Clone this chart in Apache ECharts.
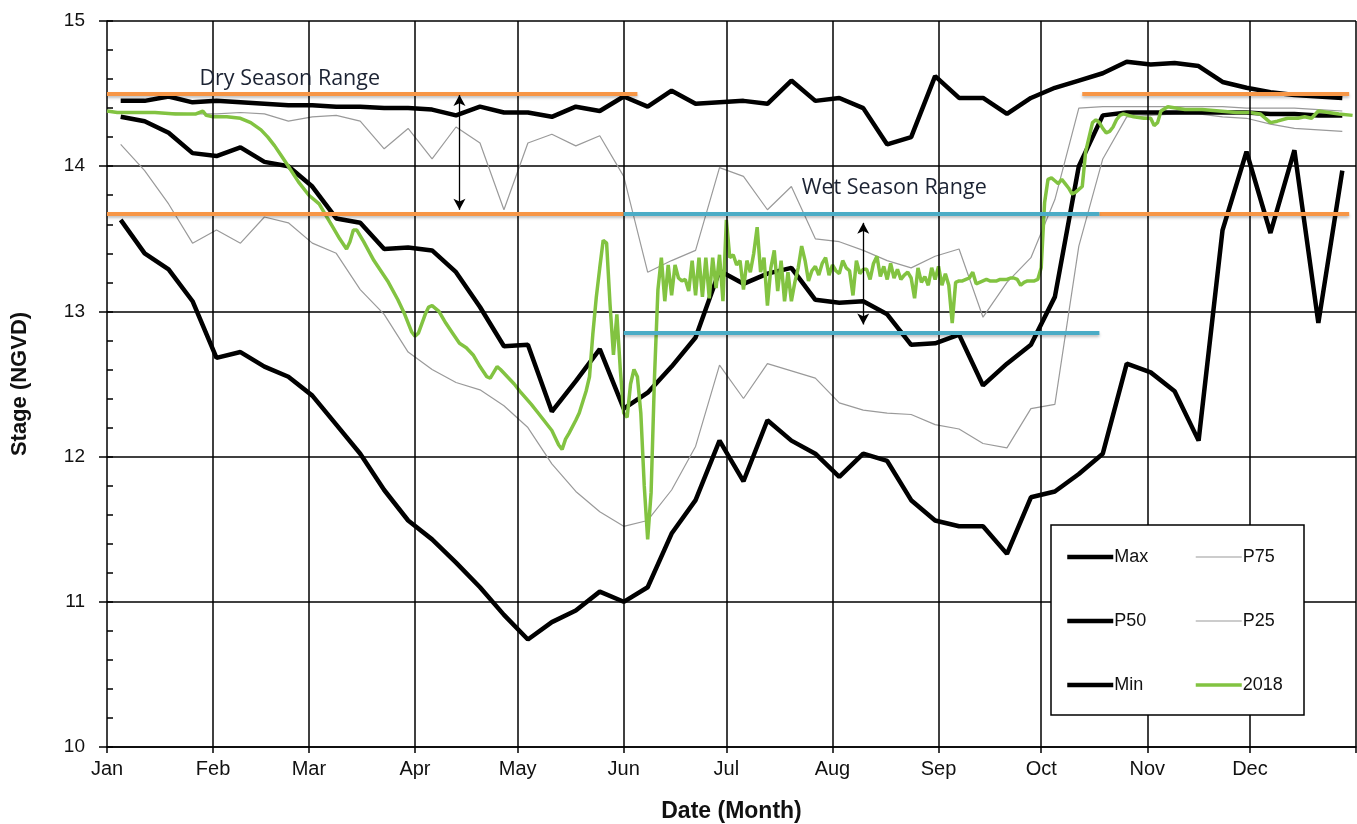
<!DOCTYPE html>
<html>
<head>
<meta charset="utf-8">
<script src="https://cdn.jsdelivr.net/npm/echarts@6/dist/echarts.min.js"></script>
<style>
html,body{margin:0;padding:0;background:#fff;}
#chart{width:1357px;height:824px;}
</style>
</head>
<body>
<div id="chart"></div>
<script>
// ---- categories / ticks ----
const monthStarts = [0, 31, 59, 90, 120, 151, 181, 212, 243, 273, 304, 334];
const monthLabels = ['Jan', 'Feb', 'Mar', 'Apr', 'May', 'Jun', 'Jul', 'Aug', 'Sep', 'Oct', 'Nov', 'Dec'];
const monthGridDays = [31, 59, 90, 120, 151, 181, 212, 243, 273, 304, 334, 365];

// ---- weekly statistics (day of year) ----
const weekDays = [4, 11, 18, 25, 32, 39, 46, 53, 60, 67, 74, 81, 88, 95, 102, 109, 116, 123, 130, 137, 144, 151, 158, 165, 172, 179, 186, 193, 200, 207, 214, 221, 228, 235, 242, 249, 256, 263, 270, 277, 284, 291, 298, 305, 312, 319, 326, 333, 340, 347, 354, 361];

const maxStage = [14.45, 14.45, 14.48, 14.44, 14.45, 14.44, 14.43, 14.42, 14.42, 14.41,
  14.41, 14.40, 14.40, 14.39, 14.35, 14.41, 14.37, 14.37, 14.34, 14.41,
  14.38, 14.48, 14.41, 14.52, 14.43, 14.44, 14.45, 14.43, 14.59, 14.45,
  14.47, 14.40, 14.15, 14.20, 14.62, 14.47, 14.47, 14.36, 14.47, 14.54,
  14.59, 14.64, 14.72, 14.70, 14.71, 14.69, 14.58, 14.54, 14.51, 14.49,
  14.48, 14.47];

const p75Stage = [14.37, 14.37, 14.37, 14.36, 14.36, 14.37, 14.36, 14.31, 14.34, 14.35,
  14.31, 14.12, 14.26, 14.05, 14.27, 14.16, 13.70, 14.16, 14.22, 14.14,
  14.21, 13.93, 13.27, 13.35, 13.42, 13.99, 13.93, 13.70, 13.86, 13.50,
  13.48, 13.42, 13.35, 13.30, 13.38, 13.43, 12.96, 13.20, 13.37, 13.77,
  14.40, 14.41, 14.41, 14.41, 14.41, 14.41, 14.41, 14.40, 14.40, 14.40,
  14.39, 14.38];

const p50Stage = [14.34, 14.31, 14.23, 14.09, 14.07, 14.13, 14.03, 14.00, 13.86, 13.64,
  13.61, 13.43, 13.44, 13.42, 13.27, 13.03, 12.76, 12.77, 12.31, 12.52,
  12.74, 12.33, 12.44, 12.62, 12.82, 13.28, 13.19, 13.26, 13.30, 13.08,
  13.06, 13.07, 12.98, 12.77, 12.78, 12.84, 12.49, 12.64, 12.77, 13.10,
  14.00, 14.35, 14.37, 14.37, 14.37, 14.37, 14.37, 14.37, 14.36, 14.36,
  14.35, 14.35];

const p25Stage = [14.15, 13.97, 13.74, 13.47, 13.56, 13.47, 13.65, 13.61, 13.47, 13.40,
  13.15, 12.98, 12.72, 12.60, 12.51, 12.46, 12.35, 12.20, 11.95, 11.76,
  11.62, 11.52, 11.56, 11.77, 12.07, 12.63, 12.40, 12.64, 12.59, 12.54,
  12.37, 12.32, 12.30, 12.29, 12.22, 12.19, 12.09, 12.06, 12.33, 12.36,
  13.45, 14.05, 14.34, 14.35, 14.36, 14.36, 14.34, 14.33, 14.29, 14.26,
  14.25, 14.24];

const minStage = [13.63, 13.40, 13.29, 13.07, 12.68, 12.72, 12.62, 12.55, 12.42, 12.22,
  12.02, 11.77, 11.56, 11.43, 11.27, 11.10, 10.91, 10.74, 10.86, 10.94,
  11.07, 11.00, 11.10, 11.47, 11.70, 12.11, 11.83, 12.25, 12.11, 12.02,
  11.86, 12.02, 11.97, 11.70, 11.56, 11.52, 11.52, 11.33, 11.72, 11.76,
  11.88, 12.02, 12.64, 12.58, 12.45, 12.11, 13.56, 14.10, 13.54, 14.11,
  12.92, 13.97];

// ---- 2018 daily stage [day of year, stage] ----
const stage2018 = [
  [0,14.38],[3,14.37],[8,14.37],[14,14.37],[20,14.36],[26,14.36],[28,14.38],[29,14.35],[31,14.34],[35,14.34],
  [39,14.33],[42,14.30],[45,14.25],[47,14.20],[49,14.14],[51,14.07],[53,14.00],[56,13.89],[59,13.80],[62,13.74],
  [64,13.66],[66,13.58],[68,13.50],[70,13.43],[71,13.48],[72,13.56],[73,13.56],[75,13.48],[78,13.35],[82,13.21],
  [85,13.08],[87,12.98],[89,12.86],[90,12.83],[91,12.85],[93,12.98],[94,13.03],[95,13.04],[97,13.00],[99,12.92],
  [101,12.85],[103,12.78],[105,12.75],[107,12.70],[109,12.62],[111,12.55],[112,12.54],[113,12.58],[114,12.62],[115,12.60],
  [117,12.55],[119,12.50],[121,12.44],[124,12.36],[126,12.30],[128,12.24],[130,12.18],[132,12.08],[133,12.05],[134,12.12],
  [135,12.16],[137,12.25],[138,12.30],[140,12.45],[141,12.55],[142,12.85],[143,13.10],[144,13.30],[145,13.49],[146,13.47],
  [147,13.05],[148,12.70],[149,12.98],[150,12.60],[151,12.30],[152,12.27],[153,12.50],[154,12.60],[155,12.55],[156,12.30],
  [157,11.80],[158,11.43],[159,11.75],[160,12.55],[161,13.15],[162,13.37],[163,13.07],[164,13.32],[165,13.11],[166,13.32],
  [167,13.23],[168,13.21],[169,13.22],[170,13.14],[171,13.35],[172,13.11],[173,13.37],[174,13.10],[175,13.37],[176,13.09],
  [177,13.37],[178,13.16],[179,13.39],[180,13.07],[181,13.63],[182,13.37],[183,13.39],[184,13.32],[185,13.35],[186,13.15],
  [187,13.35],[188,13.27],[189,13.40],[190,13.58],[191,13.27],[192,13.37],[193,13.04],[194,13.30],[195,13.42],[196,13.14],
  [197,13.35],[198,13.07],[199,13.27],[200,13.07],[201,13.20],[202,13.30],[203,13.45],[204,13.35],[205,13.21],[206,13.28],
  [207,13.31],[208,13.25],[209,13.33],[210,13.37],[211,13.25],[212,13.32],[213,13.28],[214,13.26],[215,13.35],[216,13.30],
  [217,13.28],[218,13.11],[219,13.35],[220,13.26],[221,13.29],[222,13.29],[223,13.22],[224,13.33],[225,13.38],[226,13.24],
  [227,13.31],[228,13.22],[229,13.33],[230,13.23],[231,13.29],[232,13.22],[233,13.25],[234,13.27],[235,13.23],[236,13.09],
  [237,13.30],[238,13.20],[239,13.24],[240,13.18],[241,13.30],[242,13.22],[243,13.31],[244,13.18],[245,13.26],[246,13.18],
  [247,12.92],[248,13.20],[249,13.21],[250,13.21],[251,13.22],[252,13.23],[253,13.27],[254,13.19],[255,13.20],[256,13.21],
  [257,13.22],[258,13.21],[259,13.21],[260,13.21],[261,13.22],[262,13.22],[263,13.22],[264,13.23],[265,13.23],[266,13.22],
  [267,13.18],[268,13.20],[269,13.21],[270,13.21],[271,13.21],[272,13.22],[273,13.30],[274,13.75],[275,13.91],[276,13.92],
  [277,13.90],[278,13.88],[279,13.91],[280,13.88],[281,13.85],[282,13.81],[283,13.82],[284,13.84],[285,13.86],[286,14.10],
  [287,14.20],[288,14.30],[289,14.32],[290,14.30],[291,14.26],[292,14.23],[293,14.24],[294,14.27],[295,14.32],[296,14.35],
  [297,14.36],[300,14.34],[303,14.33],[305,14.33],[306,14.28],[307,14.30],[308,14.38],[310,14.41],[315,14.39],[320,14.39],
  [325,14.38],[330,14.37],[334,14.37],[337,14.36],[340,14.30],[342,14.31],[345,14.33],[348,14.33],[350,14.34],[352,14.33],
  [354,14.38],[357,14.37],[360,14.36],[364,14.35]
];

// ---- season range annotations ----
const dryRange = [13.67, 14.5];
const wetRange = [12.85, 13.67];
const drySegments = [[0, 155], [285, 363]];   // upper dry line spans (days)
const dryLowSegments = [[0, 151], [290, 363]]; // lower dry line spans (days)
const wetSegment = [151, 290];
const dryArrow = {day: 103, from: 14.49, to: 13.70};
const wetArrow = {day: 221, from: 13.61, to: 12.91};
const dryLabel = {text: 'Dry Season Range', day: 27, value: 14.6};
const wetLabel = {text: 'Wet Season Range', day: 203, value: 13.85};

const zip = (xs, ys) => xs.map((x, i) => [x, ys[i]]);

const FONT = '"Liberation Sans", Arial, sans-serif';
const ORANGE = '#F79646';
const BLUE = '#4BACC6';
const GREEN = '#82C341';

const segLine = (a, b, v, color) => [
  {coord: [a, v], lineStyle: {color: color, width: 4, type: 'solid',
    shadowColor: 'rgba(0,0,0,0.25)', shadowBlur: 3, shadowOffsetY: 2}},
  {coord: [b, v]}
];

const rangeMarkLines = [
  segLine(drySegments[0][0], drySegments[0][1], dryRange[1], ORANGE),
  segLine(drySegments[1][0], drySegments[1][1], dryRange[1], ORANGE),
  segLine(dryLowSegments[0][0], dryLowSegments[0][1], dryRange[0], ORANGE),
  segLine(dryLowSegments[1][0], dryLowSegments[1][1], dryRange[0], ORANGE),
  segLine(wetSegment[0], wetSegment[1], wetRange[1], BLUE),
  segLine(wetSegment[0], wetSegment[1], wetRange[0], BLUE)
];

const arrowLine = (a) => [
  {coord: [a.day, a.from], symbol: 'arrow', lineStyle: {color: '#000', width: 1.3, type: 'solid'}},
  {coord: [a.day, a.to], symbol: 'arrow'}
];

const chart = echarts.init(document.getElementById('chart'), null, {renderer: 'canvas'});

const thick = (name, data) => ({
  name: name, type: 'line', data: data, symbol: 'none', smooth: false,
  lineStyle: {color: '#000', width: 4.5}, itemStyle: {color: '#000'}, z: 3, silent: true
});
const thin = (name, data) => ({
  name: name, type: 'line', data: data, symbol: 'none', smooth: false,
  lineStyle: {color: '#9a9a9a', width: 1.2}, itemStyle: {color: '#9a9a9a'}, z: 2, silent: true
});

const legendCommon = {
  orient: 'vertical', itemGap: 46, itemWidth: 46, itemHeight: 14,
  textStyle: {fontFamily: FONT, fontSize: 18, color: '#111', padding: [0, 0, 0, -4]},
  lineStyle: {width: 'inherit'},
  itemStyle: {color: 'rgba(0,0,0,0)', borderWidth: 0},
  selectedMode: false, z: 20, top: 543
};

chart.setOption({
  animation: false,
  backgroundColor: '#fff',
  grid: {left: 107, right: 1, top: 21, bottom: 77, containLabel: false, outerBoundsMode: 'none'},
  xAxis: {
    type: 'value', min: 0, max: 365,
    name: 'Date (Month)', nameLocation: 'middle', nameGap: 53,
    nameTextStyle: {fontFamily: FONT, fontSize: 23, fontWeight: 'bold', color: '#111'},
    axisLine: {show: true, lineStyle: {color: '#000', width: 1.5}},
    axisTick: {show: true, customValues: monthStarts.concat([365]), length: 6, lineStyle: {color: '#000', width: 1.5}},
    axisLabel: {
      show: true, customValues: monthStarts, margin: 12,
      fontFamily: FONT, fontSize: 20, color: '#111',
      formatter: (v) => monthLabels[monthStarts.indexOf(v)] || ''
    },
    splitLine: {show: false}
  },
  yAxis: [{
    type: 'value', min: 10, max: 15, interval: 1,
    name: 'Stage (NGVD)', nameLocation: 'middle', nameGap: 76,
    nameTextStyle: {fontFamily: FONT, fontSize: 22, fontWeight: 'bold', color: '#111'},
    axisLine: {show: true, lineStyle: {color: '#000', width: 1.5}},
    axisTick: {show: true, length: 8, lineStyle: {color: '#000', width: 1.5}},
    axisLabel: {margin: 22, fontFamily: FONT, fontSize: 19, color: '#111'},
    splitLine: {show: true, lineStyle: {color: '#000', width: 1.5}}
  }, {
    // minor ticks drawn inside the plot
    type: 'value', position: 'left', min: 10, max: 15, interval: 0.2,
    axisLine: {show: false},
    axisTick: {show: true, inside: true, length: 6, lineStyle: {color: '#000', width: 1.5}},
    axisLabel: {show: false},
    splitLine: {show: false}
  }],
  legend: [
    Object.assign({}, legendCommon, {left: 1060, data: ['Max', 'P50', 'Min']}),
    Object.assign({}, legendCommon, {left: 1189, data: ['P75', 'P25', '2018']})
  ],
  graphic: [{
    type: 'rect', z: 15, silent: true,
    shape: {x: 1051, y: 525, width: 253, height: 190},
    style: {fill: '#fff', stroke: '#000', lineWidth: 1.5}
  }],
  series: [
    {
      name: 'grid', type: 'line', data: [], symbol: 'none', z: 1, silent: true,
      markLine: {
        silent: true, symbol: 'none', animation: false,
        label: {show: false},
        lineStyle: {color: '#000', width: 1.5, type: 'solid'},
        data: monthGridDays.map(d => ({xAxis: d}))
      }
    },
    thin('P75', zip(weekDays, p75Stage)),
    thin('P25', zip(weekDays, p25Stage)),
    thick('Max', zip(weekDays, maxStage)),
    thick('P50', zip(weekDays, p50Stage)),
    thick('Min', zip(weekDays, minStage)),
    {
      name: '2018', type: 'line', data: stage2018, symbol: 'none', smooth: false,
      lineStyle: {color: GREEN, width: 3.5}, itemStyle: {color: GREEN}, z: 4, silent: true
    },
    {
      name: 'ranges', type: 'line', data: [], symbol: 'none', z: 5, silent: true,
      markLine: {
        silent: true, symbol: 'none', animation: false,
        label: {show: false},
        data: rangeMarkLines
      }
    },
    {
      name: 'arrows', type: 'line', data: [], symbol: 'none', z: 6, silent: true,
      markLine: {
        silent: true, animation: false, symbolSize: [9, 11],
        label: {show: false},
        lineStyle: {color: '#000', width: 1.3, type: 'solid'},
        data: [arrowLine(dryArrow), arrowLine(wetArrow)]
      },
      markPoint: {
        silent: true, animation: false, symbol: 'circle', symbolSize: 0,
        label: {show: true, position: 'right', distance: 0,
          fontFamily: '"Open Sans", sans-serif', fontSize: 21.5, color: '#1c2333',
          formatter: (p) => p.name},
        data: [
          {name: dryLabel.text, coord: [dryLabel.day, dryLabel.value]},
          {name: wetLabel.text, coord: [wetLabel.day, wetLabel.value]}
        ]
      }
    }
  ]
});
</script>
</body>
</html>
